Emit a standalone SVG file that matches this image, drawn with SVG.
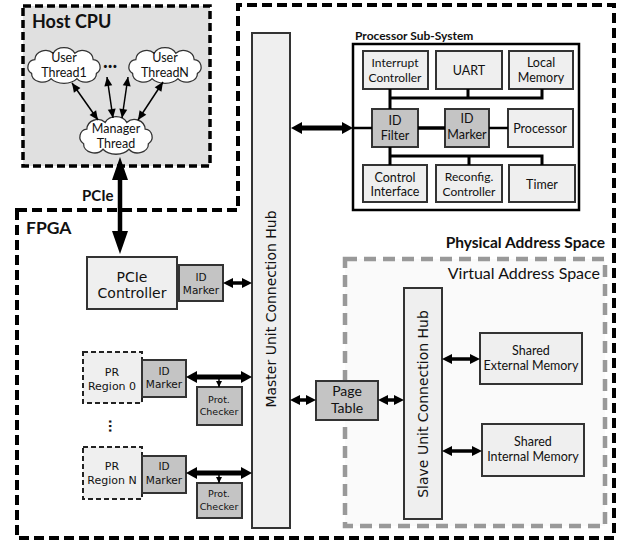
<svg xmlns="http://www.w3.org/2000/svg" width="618" height="540" viewBox="0 0 618 540">
<defs>
<style>
.lt{fill:#efefef;stroke:#333;stroke-width:2}
.dk{fill:#c4c4c4;stroke:#333;stroke-width:2}
.prb{fill:#efefef;stroke:#222;stroke-width:2;stroke-dasharray:5 3}
.cl{fill:#fff;stroke:#333;stroke-width:1.2}
.cal{font-family:Lato,"Liberation Sans",sans-serif;fill:#111}
.dv{font-family:"DejaVu Sans",sans-serif;fill:#111}
.b{font-weight:bold}
.m{text-anchor:middle}
.e{text-anchor:end}
.bus{stroke:#000;stroke-width:3;fill:none}
.thin{stroke:#000;stroke-width:1.5;fill:none;marker-start:url(#hs);marker-end:url(#hs)}
.med{stroke:#000;stroke-width:3.5;fill:none;marker-start:url(#hm);marker-end:url(#hm)}
.big{stroke:#000;stroke-width:5;fill:none;marker-start:url(#hp);marker-end:url(#hp)}
</style>
<marker id="hs" markerUnits="userSpaceOnUse" markerWidth="9" markerHeight="8" refX="9" refY="4" orient="auto-start-reverse" overflow="visible"><path d="M0,0 L9,4 L0,8 z" fill="#000"/></marker>
<marker id="ht" markerUnits="userSpaceOnUse" markerWidth="6" markerHeight="6" refX="6" refY="3" orient="auto" overflow="visible"><path d="M0,0 L6,3 L0,6 z" fill="#000"/></marker>
<marker id="hm" markerUnits="userSpaceOnUse" markerWidth="10" markerHeight="10" refX="1" refY="5" orient="auto-start-reverse" overflow="visible"><path d="M0,0 L10,5 L0,10 z" fill="#000"/></marker>
<marker id="hp" markerUnits="userSpaceOnUse" markerWidth="11" markerHeight="12" refX="1" refY="6" orient="auto-start-reverse" overflow="visible"><path d="M0,0 L11,6 L0,12 z" fill="#000"/></marker>
<marker id="hl" markerUnits="userSpaceOnUse" markerWidth="23" markerHeight="16" refX="1" refY="8" orient="auto-start-reverse" overflow="visible"><path d="M0,0 L23,8 L0,16 z" fill="#000"/></marker>
<path id="cloud" d="M-12,11 A10,8 0 0 1 -30,6 A7,7 0 0 1 -27,-7 A10,9 0 0 1 -10,-13 A11,9 0 0 1 10,-13 A10,9 0 0 1 27,-7 A7,7 0 0 1 30,6 A10,8 0 0 1 12,11 A14,9 0 0 1 -12,11 Z"/>
</defs>

<rect width="618" height="540" fill="#fff"/>

<g id="fpga">
<path d="M17,210 H238 V5 H614 V538 H17 Z" fill="none" stroke="#000" stroke-width="4" stroke-dasharray="10 5"/>
<text class="cal b" x="26" y="234" font-size="17.5">FPGA</text>
<text class="cal b e" x="605" y="248" font-size="15.5">Physical Address Space</text>
</g>

<g id="host-cpu">
<rect x="23" y="6" width="187" height="160" fill="#e0e0e0" stroke="#000" stroke-width="3.5" stroke-dasharray="8 4"/>
<text class="cal b" x="32" y="28" font-size="18">Host CPU</text>
<text class="cal b" x="103" y="68" font-size="20">...</text>
</g>

<g id="user-thread1">
<use href="#cloud" class="cl" transform="translate(64,67) scale(1.08,1.06)"/>
<text class="cal m" x="64" y="62" font-size="12.5">User</text>
<text class="cal m" x="64" y="77" font-size="12.5">Thread1</text>
</g>
<g id="user-threadn">
<use href="#cloud" class="cl" transform="translate(165,67) scale(1.08,1.06)"/>
<text class="cal m" x="165" y="62" font-size="12.5">User</text>
<text class="cal m" x="165" y="77" font-size="12.5">ThreadN</text>
</g>
<g id="manager-thread">
<use href="#cloud" class="cl" transform="translate(116,137) scale(1.08,1.12)"/>
<text class="cal m" x="116" y="133" font-size="12.5">Manager</text>
<text class="cal m" x="116" y="148" font-size="12.5">Thread</text>
</g>
<text class="cal b" x="82" y="201" font-size="15">PCIe</text>

<g id="master-hub">
<rect class="lt" x="252" y="33" width="38" height="495"/>
<text class="dv m" transform="translate(276,309) rotate(-90)" font-size="14">Master Unit Connection Hub</text>
</g>

<g id="pcie-controller">
<rect class="lt" x="87" y="257" width="90" height="52"/>
<text class="dv m" x="132" y="282" font-size="14">PCIe</text>
<text class="dv m" x="132" y="298" font-size="14">Controller</text>
</g>
<g id="pcie-id-marker">
<rect class="dk" x="179" y="265" width="44" height="36"/>
<text class="dv m" x="201" y="281" font-size="10.5">ID</text>
<text class="dv m" x="201" y="294" font-size="10.5">Marker</text>
</g>

<g id="pr-region-0">
<rect class="prb" x="83" y="352" width="59" height="51"/>
<text class="dv m" x="112" y="376" font-size="11">PR</text>
<text class="dv m" x="112" y="390" font-size="11">Region 0</text>
</g>
<g id="pr0-id-marker">
<rect class="dk" x="142" y="360" width="44" height="37"/>
<text class="dv m" x="164" y="375" font-size="10.5">ID</text>
<text class="dv m" x="164" y="388" font-size="10.5">Marker</text>
</g>
<g id="pr0-checker">
<rect class="dk" x="197" y="387" width="45" height="38"/>
<text class="dv m" x="219" y="403" font-size="9.5">Prot.</text>
<text class="dv m" x="219" y="415" font-size="9.5">Checker</text>
</g>
<text class="dv b m" transform="translate(113,426) rotate(90)" font-size="12" dy="4">...</text>

<g id="pr-region-n">
<rect class="prb" x="83" y="447" width="59" height="52"/>
<text class="dv m" x="112" y="470" font-size="11">PR</text>
<text class="dv m" x="112" y="484" font-size="11">Region N</text>
</g>
<g id="prn-id-marker">
<rect class="dk" x="142" y="456" width="44" height="37"/>
<text class="dv m" x="164" y="470" font-size="10.5">ID</text>
<text class="dv m" x="164" y="484" font-size="10.5">Marker</text>
</g>
<g id="prn-checker">
<rect class="dk" x="197" y="483" width="45" height="35"/>
<text class="dv m" x="219" y="497" font-size="9.5">Prot.</text>
<text class="dv m" x="219" y="510" font-size="9.5">Checker</text>
</g>

<g id="virtual-address-space">
<rect x="345" y="259" width="260" height="267" fill="#fafafa" stroke="#999" stroke-width="4.5" stroke-dasharray="12 7"/>
<text class="cal e" x="600" y="279" font-size="16">Virtual Address Space</text>
</g>

<g id="page-table">
<rect class="dk" x="316" y="381" width="62" height="39"/>
<text class="cal m" x="347" y="396" font-size="14">Page</text>
<text class="cal m" x="347" y="413" font-size="14">Table</text>
</g>

<g id="slave-hub">
<rect class="lt" x="404" y="288" width="38" height="231"/>
<text class="dv m" transform="translate(428,404) rotate(-90)" font-size="14">Slave Unit Connection Hub</text>
</g>
<g id="shared-external-memory">
<rect class="lt" x="480" y="333" width="102" height="51"/>
<text class="cal m" x="531" y="355" font-size="12.5">Shared</text>
<text class="cal m" x="531" y="370" font-size="12.5">External Memory</text>
</g>
<g id="shared-internal-memory">
<rect class="lt" x="482" y="424" width="102" height="52"/>
<text class="cal m" x="533" y="446" font-size="12.5">Shared</text>
<text class="cal m" x="533" y="461" font-size="12.5">Internal Memory</text>
</g>

<g id="processor-subsystem">
<rect x="353" y="44" width="226" height="166" fill="#fff" stroke="#000" stroke-width="2.5"/>
<text class="cal b" x="355" y="40" font-size="12">Processor Sub-System</text>
</g>
<g id="interrupt-controller">
<rect class="lt" x="363" y="51" width="65" height="38"/>
<text class="cal m" x="395" y="67" font-size="12">Interrupt</text>
<text class="cal m" x="395" y="82" font-size="12">Controller</text>
</g>
<g id="uart">
<rect class="lt" x="436" y="51" width="66" height="38"/>
<text class="cal m" x="469" y="75" font-size="12.5">UART</text>
</g>
<g id="local-memory">
<rect class="lt" x="509" y="51" width="64" height="38"/>
<text class="cal m" x="541" y="67" font-size="12.5">Local</text>
<text class="cal m" x="541" y="82" font-size="12.5">Memory</text>
</g>
<g id="id-filter">
<rect class="dk" x="372" y="109" width="46" height="38"/>
<text class="cal m" x="395" y="125" font-size="12.5">ID</text>
<text class="cal m" x="395" y="140" font-size="12.5">Filter</text>
</g>
<g id="pss-id-marker">
<rect class="dk" x="445" y="109" width="44" height="38"/>
<text class="cal m" x="467" y="123" font-size="12.5">ID</text>
<text class="cal m" x="467" y="139" font-size="12.5">Marker</text>
</g>
<g id="processor">
<rect class="lt" x="508" y="109" width="65" height="38"/>
<text class="cal m" x="540" y="133" font-size="12.5">Processor</text>
</g>
<g id="control-interface">
<rect class="lt" x="363" y="165" width="64" height="37"/>
<text class="cal m" x="395" y="182" font-size="12.5">Control</text>
<text class="cal m" x="395" y="196" font-size="12.5">Interface</text>
</g>
<g id="reconfig-controller">
<rect class="lt" x="436" y="165" width="66" height="37"/>
<text class="cal m" x="469" y="181" font-size="12">Reconfig.</text>
<text class="cal m" x="469" y="196" font-size="12">Controller</text>
</g>
<g id="timer">
<rect class="lt" x="509" y="165" width="66" height="37"/>
<text class="cal m" x="542" y="189" font-size="12.5">Timer</text>
</g>

<g id="connectors">
<line class="thin" x1="72" y1="83" x2="98" y2="120"/>
<line class="thin" x1="107" y1="77" x2="113" y2="118"/>
<line class="thin" x1="128" y1="77" x2="122" y2="118"/>
<line class="thin" x1="163" y1="82" x2="138" y2="120"/>
<line x1="120" y1="179" x2="120" y2="232" stroke="#000" stroke-width="4.5" marker-start="url(#hl)" marker-end="url(#hl)"/>
<line class="med" x1="232" y1="283" x2="243" y2="283"/>
<line class="big" x1="196" y1="377" x2="242" y2="377"/>
<line x1="219" y1="377" x2="219" y2="387" stroke="#000" stroke-width="1.5" marker-end="url(#ht)"/>
<line class="big" x1="196" y1="473" x2="242" y2="473"/>
<line x1="219" y1="473" x2="219" y2="483" stroke="#000" stroke-width="1.5" marker-end="url(#ht)"/>
<line class="med" x1="299" y1="400" x2="307" y2="400"/>
<line class="med" x1="387" y1="400" x2="395" y2="400"/>
<line class="med" x1="451" y1="359" x2="471" y2="359"/>
<line class="med" x1="451" y1="451" x2="473" y2="451"/>
<line class="big" x1="301" y1="128" x2="343" y2="128"/>
<line x1="353" y1="128" x2="372" y2="128" stroke="#000" stroke-width="2.5"/>
<line x1="418" y1="128" x2="445" y2="128" stroke="#000" stroke-width="3.5"/>
<line x1="489" y1="128" x2="508" y2="128" stroke="#000" stroke-width="2.5"/>
<path class="bus" d="M390,89 V109 M390,98 H542 M468,89 V98 M542,89 V99.5"/>
<path class="bus" d="M390,147 V165 M390,156 H542 M469,156 V165 M542,154.5 V165"/>
</g>
</svg>
